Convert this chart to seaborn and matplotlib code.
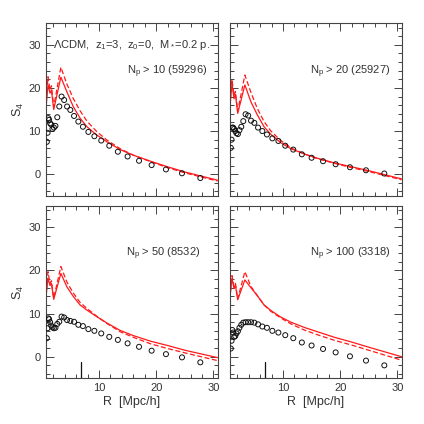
import numpy as np
import pandas as pd
import matplotlib
matplotlib.use("Agg")
import matplotlib.pyplot as plt
import seaborn as sns
from matplotlib.ticker import MultipleLocator

# ---------------- data ----------------
R_pts = [0.9, 1.02, 1.15, 1.3, 1.47, 1.67, 1.88, 2.13, 2.4, 2.72, 3.07, 3.47, 3.92,
         4.43, 5.0, 5.65, 6.4, 7.2, 8.15, 9.2, 10.4, 11.8, 13.3, 15.0, 17.0, 19.2,
         21.7, 24.5, 27.7]
S4_np10 = [7.5, 9.6, 13.0, 12.6, 11.8, 11.5, 10.5, 10.8, 11.2, 13.2, 15.7, 18.0, 17.2,
           15.7, 14.9, 13.5, 12.2, 11.0, 9.8, 8.8, 7.8, 6.6, 5.2, 4.1, 3.1, 2.1,
           1.1, 0.2, -0.9]
S4_np20 = [6.1, 8.0, 10.8, 10.8, 10.5, 10.0, 9.5, 9.3, 10.2, 11.0, 12.3, 13.9, 13.6,
           12.4, 11.9, 10.8, 10.0, 9.2, 8.3, 7.7, 6.6, 5.7, 4.6, 3.8, 3.0, 2.3,
           1.6, 0.9, 0.15]
S4_np50 = [4.3, 6.6, 8.9, 8.7, 8.0, 7.2, 6.8, 6.6, 6.7, 7.6, 8.1, 9.3, 9.1,
           8.5, 8.3, 8.1, 7.4, 7.1, 6.4, 6.0, 5.4, 4.6, 3.9, 3.1, 2.3, 1.4,
           0.6, -0.15, -1.3]
S4_np100 = [1.9, 3.7, 6.2, 5.6, 4.6, 4.8, 5.4, 5.9, 6.7, 7.4, 7.9, 8.0, 8.0,
            8.0, 7.9, 7.5, 7.0, 6.7, 6.0, 5.6, 5.0, 4.3, 3.3, 2.6, 1.8, 1.0,
            0.1, -0.9, -2.0]

R_line = [0.7, 1.1, 1.45, 1.7, 2.1, 3.35, 4.4, 5.5, 6.7, 7.9, 9.6, 11.4, 13.7, 16, 19, 22, 25, 30.7]
solid_np10 = [14.5, 20.7, 18.8, 19.5, 15.0, 22.5, 19.1, 15.7, 13.0, 11.0, 9.1, 7.5, 5.7, 4.4, 3.0, 1.7, 0.5, -1.4]
dash_np10 = [15.5, 22.6, 19.5, 20.5, 15.6, 24.8, 20.9, 17.6, 14.7, 12.3, 9.9, 7.9, 5.9, 4.4, 2.9, 1.5, 0.3, -1.6]
solid_np20 = [14.9, 21.1, 17.5, 18.5, 14.1, 20.7, 16.8, 13.8, 11.0, 9.2, 7.3, 5.9, 4.7, 3.7, 2.6, 1.7, 0.8, -1.1]
dash_np20 = [15.5, 22.0, 18.2, 19.2, 14.6, 23.0, 19.0, 15.3, 12.2, 10.0, 7.8, 6.1, 4.7, 3.6, 2.5, 1.5, 0.6, -1.3]
solid_np50 = [13.2, 18.2, 16.5, 17.0, 13.3, 19.3, 16.2, 14.0, 12.0, 10.8, 9.3, 7.8, 6.1, 4.9, 3.6, 2.6, 1.5, -0.2]
dash_np50 = [13.6, 19.7, 17.0, 17.6, 13.6, 20.9, 17.3, 14.8, 12.6, 11.2, 9.4, 7.7, 5.8, 4.5, 3.0, 1.9, 0.9, -0.9]
solid_np100 = [13.2, 18.2, 15.8, 16.5, 13.2, 17.8, 16.0, 14.2, 12.0, 10.7, 9.2, 8.0, 6.8, 5.8, 4.5, 3.4, 2.2, 0.0]
dash_np100 = [13.4, 18.8, 16.3, 17.0, 13.4, 19.7, 16.3, 14.2, 12.0, 10.5, 9.0, 7.6, 6.2, 5.1, 3.8, 2.7, 1.5, -0.8]

labels = ["N$_\\mathrm{p}$ > 10 (59296)", "N$_\\mathrm{p}$ > 20 (25927)",
          "N$_\\mathrm{p}$ > 50 (8532)", "N$_\\mathrm{p}$ > 100 (3318)"]
title_text = "\u039bCDM,  z$_1$=3,  z$_0$=0,  M$_*$=0.2 p."
marker_R = 6.8
marker_top = -1.2

pts = [S4_np10, S4_np20, S4_np50, S4_np100]
solids = [solid_np10, solid_np20, solid_np50, solid_np100]
dashes = [dash_np10, dash_np20, dash_np50, dash_np100]

# ---------------- figure ----------------
sns.set_style("ticks")
plt.rcParams['font.family'] = ['Liberation Sans', 'DejaVu Sans']
plt.rcParams['mathtext.fontset'] = 'custom'
plt.rcParams['mathtext.rm'] = 'Liberation Sans'
plt.rcParams['mathtext.it'] = 'Liberation Sans'
TXT = '#333333'

fig = plt.figure(figsize=(4.24, 4.24), dpi=100)
W = 424.0
boxes = [(45.7, 23.3, 217.5, 195.7), (229.7, 23.3, 401.5, 195.7),
         (45.7, 205.7, 217.5, 378.3), (229.7, 205.7, 401.5, 378.3)]
text_right = [0.94, 0.935, 0.90, 0.935]

for i, (x0, y0, x1, y1) in enumerate(boxes):
    ax = fig.add_axes([x0 / W, 1 - y1 / W, (x1 - x0) / W, (y1 - y0) / W])
    dfp = pd.DataFrame({"R": R_pts, "S4": pts[i]})
    dfl = pd.DataFrame({"R": R_line, "solid": solids[i], "dash": dashes[i]})
    sns.lineplot(data=dfl, x="R", y="solid", ax=ax, color="#ff1a1a", lw=0.9,
                 estimator=None, sort=False)
    sns.lineplot(data=dfl, x="R", y="dash", ax=ax, color="#ff1a1a", lw=0.9,
                 estimator=None, sort=False, dashes=False, linestyle=(0, (4, 2)))
    sns.scatterplot(data=dfp, x="R", y="S4", ax=ax, marker="o", s=13,
                    facecolor="none", edgecolor="#111111", linewidth=0.7, zorder=3)
    ax.set_xlim(0.7, 30.7)
    ax.set_ylim(-5, 35)
    ax.xaxis.set_major_locator(MultipleLocator(10))
    ax.xaxis.set_minor_locator(MultipleLocator(2))
    ax.yaxis.set_major_locator(MultipleLocator(10))
    ax.yaxis.set_minor_locator(MultipleLocator(2))
    ax.tick_params(which='both', direction='in', top=True, right=True,
                   color='#444444', width=0.7, labelsize=8, labelcolor=TXT)
    ax.tick_params(which='major', length=6)
    ax.tick_params(which='minor', length=3)
    for sp in ax.spines.values():
        sp.set_color('#444444')
        sp.set_linewidth(0.8)
    ax.set_xlabel("")
    ax.set_ylabel("")
    if i in (0, 2):
        ax.set_ylabel("S$_4$", fontsize=9, color=TXT, labelpad=2)
    else:
        ax.set_yticklabels([])
    if i in (2, 3):
        ax.set_xlabel("R  [Mpc/h]", fontsize=9, color=TXT, labelpad=2)
        ax.plot([marker_R, marker_R], [-5, marker_top], color='#111111', lw=0.9)
    else:
        ax.set_xticklabels([])
    ax.text(text_right[i], 0.72, labels[i], transform=ax.transAxes, ha='right',
            va='center', fontsize=8, color=TXT)
    if i == 0:
        ax.text(0.04, 0.875, title_text, transform=ax.transAxes, ha='left',
                va='center', fontsize=8, color=TXT)

fig.savefig("out.png", dpi=100)
